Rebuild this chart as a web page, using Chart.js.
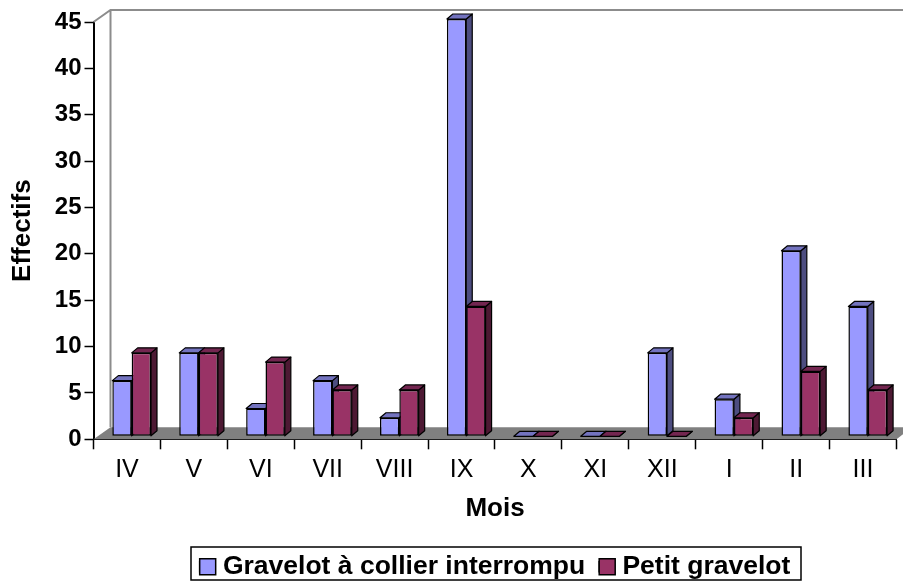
<!DOCTYPE html>
<html>
<head>
<meta charset="utf-8">
<style>
  html, body { margin: 0; padding: 0; background: #fff; overflow: hidden; }
  #wrap { width: 903px; height: 582px; }
</style>
<script src="https://cdn.jsdelivr.net/npm/chart.js@4"></script>
</head>
<body>
<div id="wrap"><canvas id="chart" width="903" height="582"></canvas></div>
<script>
const months = ['IV', 'V', 'VI', 'VII', 'VIII', 'IX', 'X', 'XI', 'XII', 'I', 'II', 'III'];
const gravelotCollier = [6, 9, 3, 6, 2, 45, 0, 0, 9, 4, 20, 14];
const petitGravelot = [9, 9, 8, 5, 5, 14, 0, 0, 0, 2, 7, 5];
const yTicks = [0, 5, 10, 15, 20, 25, 30, 35, 40, 45];

const font = 'Arial, "Liberation Sans", sans-serif';

// face colours for the fake 3D look: [top, side]
const shades = [['#7373bf', '#4d4d80'], ['#732650', '#4d1933']];
const fills = ['#9999ff', '#993366'];

// Excel style wall + floor, bars are pushed a bit into the depth
const box3d = {
    id: 'box3d',
    beforeDatasetsDraw(chart) {
        const { ctx, chartArea: a } = chart;
        const dx = 17, dy = 12;
        ctx.save();
        // floor
        ctx.fillStyle = '#808080';
        ctx.beginPath();
        ctx.moveTo(a.left, a.bottom);
        ctx.lineTo(a.left + dx, a.bottom - dy);
        ctx.lineTo(903, a.bottom - dy);
        ctx.lineTo(903, a.bottom - 5);
        ctx.lineTo(a.right, a.bottom);
        ctx.closePath();
        ctx.fill();
        // back wall
        ctx.strokeStyle = '#8c8c8c';
        ctx.lineWidth = 2;
        ctx.beginPath();
        ctx.moveTo(a.left, a.top);
        ctx.lineTo(a.left + dx, a.top - dy);
        ctx.lineTo(903, a.top - dy);
        ctx.moveTo(a.left + dx, a.top - dy);
        ctx.lineTo(a.left + dx, a.bottom - dy);
        ctx.stroke();
        ctx.restore();

        // stays translated until afterDatasetsDraw
        ctx.save();
        ctx.translate(4.7, -3);
        // tops and sides go first, the library then paints the front faces over them
        chart.data.datasets.forEach((ds, i) => drawDepth(chart, i));
    },
    afterDatasetsDraw(chart) {
        chart.ctx.restore();
    },
    afterDraw(chart) {
        // legend frame and swatches
        const { ctx, legend } = chart;
        ctx.save();
        ctx.strokeStyle = '#000';
        ctx.lineWidth = 1.5;
        ctx.strokeRect(191, 547, 610, 33);
        legend.legendHitBoxes.forEach((box, i) => {
            ctx.fillStyle = fills[i];
            ctx.fillRect(box.left, box.top + box.height / 2 - 8, 16, 16);
            ctx.strokeRect(box.left, box.top + box.height / 2 - 8, 16, 16);
        });
        ctx.restore();
    }
};

function drawDepth(chart, index) {
    const ctx = chart.ctx;
    const [top, side] = shades[index];
    const dx = 6, dy = 5;
    ctx.lineWidth = 1.2;
    ctx.strokeStyle = '#000';
    ctx.lineJoin = 'round';
    chart.getDatasetMeta(index).data.forEach(bar => {
        const l = bar.x - bar.width / 2, r = bar.x + bar.width / 2;
        const t = bar.y, b = bar.base;
        ctx.fillStyle = side;
        ctx.beginPath();
        ctx.moveTo(r, t);
        ctx.lineTo(r + dx, t - dy);
        ctx.lineTo(r + dx, b - dy);
        ctx.lineTo(r, b);
        ctx.closePath();
        ctx.fill();
        ctx.stroke();
        ctx.fillStyle = top;
        ctx.beginPath();
        ctx.moveTo(l, t);
        ctx.lineTo(l + dx, t - dy);
        ctx.lineTo(r + dx, t - dy);
        ctx.lineTo(r, t);
        ctx.closePath();
        ctx.fill();
        ctx.stroke();
    });
}

new Chart(document.getElementById('chart'), {
    type: 'bar',
    data: {
        labels: months,
        datasets: [
            { label: 'Gravelot à collier interrompu', data: gravelotCollier, backgroundColor: fills[0], borderColor: '#000', borderWidth: 1.5, borderSkipped: false, clip: false },
            { label: 'Petit gravelot', data: petitGravelot, backgroundColor: fills[1], borderColor: '#000', borderWidth: 1.5, borderSkipped: false, clip: false }
        ]
    },
    options: {
        responsive: false,
        animation: false,
        layout: { padding: { top: 22, right: 6.5, bottom: -8, left: 0 } },
        datasets: { bar: { categoryPercentage: 0.578, barPercentage: 1 } },
        plugins: {
            tooltip: { enabled: false },
            legend: {
                position: 'bottom',
                fullSize: false,
                labels: {
                    color: '#000',
                    font: { family: font, size: 26.5, weight: 'bold' },
                    boxWidth: 10,
                    boxHeight: 10,
                    padding: 14
                }
            }
        },
        scales: {
            x: {
                grid: { display: true, drawOnChartArea: false, color: '#000', tickLength: 10, tickWidth: 1.5 },
                border: { color: '#000', width: 2 },
                ticks: { color: '#000', font: { family: font, size: 25 }, padding: 6, maxRotation: 0 },
                title: { display: true, text: 'Mois', color: '#000', font: { family: font, size: 26, weight: 'bold' }, padding: { top: 2, bottom: 15 } }
            },
            y: {
                min: 0,
                max: 45,
                afterFit(scale) { scale.width = 93.5; },
                afterBuildTicks(scale) { scale.ticks = yTicks.map(v => ({ value: v })); },
                grid: { display: true, drawOnChartArea: false, color: '#000', tickLength: 9, tickWidth: 1.5 },
                border: { color: '#000', width: 2 },
                ticks: { color: '#000', font: { family: font, size: 24, weight: 'bold' }, padding: 3 },
                title: { display: true, text: 'Effectifs', color: '#000', font: { family: font, size: 26, weight: 'bold' }, padding: { top: 7, bottom: 0 } }
            }
        }
    },
    plugins: [box3d]
});
</script>
</body>
</html>
